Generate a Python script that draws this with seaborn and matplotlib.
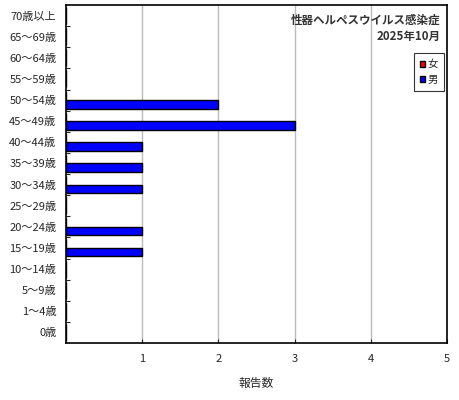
import matplotlib
matplotlib.use("Agg")
import matplotlib.pyplot as plt
import seaborn as sns
import pandas as pd

age_groups = ["0歳", "1～4歳", "5～9歳", "10～14歳", "15～19歳", "20～24歳", "25～29歳",
              "30～34歳", "35～39歳", "40～44歳", "45～49歳", "50～54歳", "55～59歳",
              "60～64歳", "65～69歳", "70歳以上"]
female = [0, 0, 0, 0, 0, 0, 0, 0, 0, 0, 0, 0, 0, 0, 0, 0]
male = [0, 0, 0, 0, 1, 1, 0, 1, 1, 1, 3, 2, 0, 0, 0, 0]
sexes = ["女", "男"]
x_ticks = [1, 2, 3, 4, 5]
title_lines = ["性器ヘルペスウイルス感染症", "2025年10月"]
x_label = "報告数"

sns.set_theme(style="white")
plt.rcParams['font.family'] = ['Noto Sans CJK JP', 'DejaVu Sans']

df = pd.DataFrame({
    "age": age_groups * 2,
    "sex": [sexes[0]] * len(age_groups) + [sexes[1]] * len(age_groups),
    "count": female + male,
})

fig = plt.figure(figsize=(4.6, 4.0), dpi=100)
ax = fig.add_axes([66/460, 1-343/400, (447-66)/460, (343-5)/400])

sns.barplot(data=df, y="age", x="count", hue="sex", order=age_groups[::-1],
            hue_order=sexes, palette={"女": "#FF0000", "男": "#0000FF"},
            saturation=1, orient="h", width=0.8, edgecolor="black", linewidth=1.0,
            ax=ax, legend=True)

ax.set_xlim(0, 5)
ax.set_ylim(len(age_groups) - 0.5, -0.5)
ax.set_xticks(x_ticks)
ax.set_xticklabels([str(t) for t in x_ticks], fontsize=8)
ax.tick_params(axis="x", direction="in", length=3, width=0.8, pad=8, bottom=True)
ax.tick_params(axis="y", which="major", length=0, labelsize=8, pad=7)
ax.set_yticks([i + 0.5 for i in range(len(age_groups) - 1)], minor=True)
ax.tick_params(axis="y", which="minor", direction="in", length=3, width=0.8, left=True)
ax.xaxis.grid(True, color="#BBBBBB", linewidth=1)
ax.set_axisbelow(True)
for s in ax.spines.values():
    s.set_color("black")
    s.set_linewidth(1.2)

ax.set_ylabel("")
ax.set_xlabel(x_label, fontsize=8.5, labelpad=9)

ax.text(0.982, 0.956, title_lines[0], transform=ax.transAxes, ha="right", va="center",
        fontsize=8.3, fontweight="bold", color="#333333")
ax.text(0.982, 0.908, title_lines[1], transform=ax.transAxes, ha="right", va="center",
        fontsize=8.3, fontweight="bold", color="#333333")

leg = ax.legend(loc="upper right", bbox_to_anchor=(0.992, 0.858), fontsize=7.5,
                frameon=True, fancybox=False, edgecolor="black", handlelength=0.5,
                handleheight=0.5, handletextpad=0.2, borderpad=0.6, labelspacing=0.5,
                borderaxespad=0)
leg.get_frame().set_linewidth(0.8)

fig.savefig("out.png", dpi=100)
